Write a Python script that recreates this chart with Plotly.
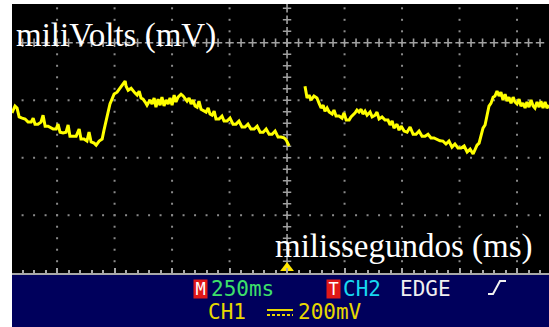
import numpy as np
import plotly.graph_objects as go

# ---- data (time in ms relative to trigger, voltage in mV) ----
t1 = [-1196, -1183, -1174, -1165, -1152, -1139, -1126, -1113, -1104, -1096, -1083, -1070, -1061,
      -1052, -1039, -1030, -1017, -1004, -996, -987, -974, -961, -952, -944, -930, -917, -904,
      -896, -883, -870, -861, -852, -839, -830, -817, -804, -796, -787, -778, -770, -761, -752,
      -739, -730, -722, -713, -704, -700, -691, -678, -670, -661, -652, -643, -635, -626, -617,
      -609, -596, -587, -578, -570, -561, -552, -544, -535, -526, -517, -509, -500, -491, -483,
      -474, -461, -452, -443, -435, -426, -417, -409, -400, -391, -383, -374, -365, -352, -343,
      -335, -326, -317, -309, -296, -283, -274, -261, -248, -235, -222, -209, -196, -183, -170,
      -157, -143, -130, -117, -104, -91, -78, -65, -52, -39, -26, -13, -4, 4, 9]
v1 = [-244, -220, -227, -258, -262, -265, -276, -276, -262, -283, -283, -276, -252,
      -290, -290, -293, -300, -300, -283, -311, -314, -311, -286, -325, -325, -325, -300,
      -335, -335, -342, -311, -345, -349, -356, -342, -335, -304, -269, -241, -213, -196, -178,
      -172, -161, -151, -144, -133, -151, -165, -158, -168, -175, -182, -168, -192, -196, -206,
      -217, -199, -213, -192, -224, -196, -217, -189, -220, -199, -213, -192, -217, -182, -206,
      -189, -179, -185, -196, -203, -192, -213, -199, -220, -224, -203, -231, -234, -241, -227,
      -248, -252, -238, -265, -265, -255, -272, -272, -262, -283, -283, -272, -293, -293, -283,
      -300, -300, -290, -311, -311, -300, -318, -318, -307, -328, -328, -331, -338, -349, -359]

t2 = [78, 83, 87, 96, 104, 117, 130, 139, 148, 157, 165, 174, 183, 196, 204, 213, 226, 239,
      248, 257, 270, 278, 287, 296, 304, 313, 322, 330, 339, 348, 361, 370, 383, 391, 400, 413,
      426, 439, 448, 457, 465, 478, 487, 496, 509, 522, 535, 548, 561, 574, 587, 600, 613, 626,
      639, 652, 665, 678, 691, 704, 717, 730, 743, 757, 770, 783, 796, 809, 817, 826, 835, 843,
      852, 861, 870, 878, 887, 896, 904, 913, 922, 930, 939, 948, 957, 965, 974, 983, 991, 1000,
      1009, 1017, 1026, 1035, 1043, 1052, 1061, 1070, 1078, 1087, 1096, 1104, 1113, 1122, 1130, 1139]
v2 = [-151, -172, -192, -182, -199, -185, -192, -210, -227, -217, -238, -227, -241, -248, -234,
      -255, -255, -262, -244, -269, -269, -258, -252, -244, -234, -241, -231, -248, -238, -252,
      -241, -258, -252, -241, -265, -258, -269, -269, -286, -272, -297, -283, -304, -290, -307,
      -311, -293, -318, -318, -307, -325, -325, -318, -331, -331, -335, -341, -342, -352, -342,
      -363, -352, -366, -366, -359, -380, -370, -387, -373, -356, -349, -328, -297, -286, -245,
      -220, -210, -189, -185, -168, -185, -172, -199, -179, -203, -189, -210, -189, -206, -213,
      -196, -220, -210, -227, -206, -224, -199, -220, -227, -206, -224, -203, -227, -206, -227, -217]

y_label = "miliVolts (mV)"
x_label = "milissegundos (ms)"
timebase = "250ms"
trig_src = "CH2"
trig_type = "EDGE"
channel = "CH1"
volts_div = "200mV"

# ---- geometry helpers (pixel -> paper) ----
W, H = 549, 327
ML, MR, MT, MB = 12, 0, 4, 54
PW, PH = W - ML - MR, H - MT - MB


def px(x):
    return (x - ML) / PW


def py(y):
    return (H - MB - y) / PH


XR = [-1196, 1139]
YR = [-801, 135]

fig = go.Figure()

# graticule dots
vlines = [-1000, -750, -500, -250, 250, 500, 750, 1000]
hlines = [-200, -400, -600]
vdots = np.arange(-760, 121, 40)
tdots = np.arange(-1150, 1140, 50)
gx = [x for x in vlines for _ in vdots] + [t for _ in hlines for t in tdots]
gy = [v for _ in vlines for v in vdots] + [h for h in hlines for _ in tdots]
fig.add_trace(go.Scatter(x=gx, y=gy, mode="markers", hoverinfo="skip",
                         marker=dict(symbol="square", size=2, color="#8a8a8a", line=dict(width=0))))
cx = [0] * len(vdots) + list(tdots)
cy = list(vdots) + [0] * len(tdots)
fig.add_trace(go.Scatter(x=cx, y=cy, mode="markers", hoverinfo="skip",
                         marker=dict(symbol="cross-thin", size=6, color="#a0a0a0",
                                     line=dict(width=1.6, color="#a0a0a0"))))

# waveform
for tt, vv in ((t1, v1), (t2, v2)):
    fig.add_trace(go.Scatter(x=tt, y=vv, mode="lines", hoverinfo="skip",
                             line=dict(color="#ffff00", width=3)))

# trigger position marker
fig.add_trace(go.Scatter(x=[0], y=[-784], mode="markers", cliponaxis=False, hoverinfo="skip",
                         marker=dict(symbol="triangle-up", size=12, color="#ffe600", line=dict(width=0))))

shapes = [
    dict(type="rect", xref="paper", yref="paper", x0=0, x1=1, y0=py(H + 2), y1=py(275),
         fillcolor="#00005c", line=dict(width=0), layer="below"),
    # DC coupling symbol
    dict(type="line", xref="paper", yref="paper", x0=px(267), x1=px(293), y0=py(310), y1=py(310),
         line=dict(color="#e8d800", width=2)),
    dict(type="line", xref="paper", yref="paper", x0=px(267), x1=px(293), y0=py(315), y1=py(315),
         line=dict(color="#e8d800", width=2, dash="3px,2px")),
    # rising edge symbol
    dict(type="path", xref="paper", yref="paper",
         path=f"M {px(488)} {py(294)} L {px(493)} {py(294)} L {px(500)} {py(281)} L {px(506)} {py(281)}",
         line=dict(color="#f0f0f0", width=2)),
]

mono = "DejaVu Sans Mono"
ann = [
    dict(text=y_label, x=px(15), y=py(35), xanchor="left", yanchor="middle",
         font=dict(family="Liberation Serif", size=33, color="#ffffff")),
    dict(text=x_label, x=px(274), y=py(246), xanchor="left", yanchor="middle",
         font=dict(family="Liberation Serif", size=33, color="#ffffff")),
    dict(text="M", x=px(200.5), y=py(289), xanchor="center", yanchor="middle", width=13, height=18,
         bgcolor="#e01818", font=dict(family=mono, size=17, color="#ffffff")),
    dict(text=timebase, x=px(210), y=py(289), xanchor="left", yanchor="middle",
         font=dict(family=mono, size=21, color="#3ee06a")),
    dict(text="T", x=px(333.5), y=py(289), xanchor="center", yanchor="middle", width=13, height=18,
         bgcolor="#e01818", font=dict(family=mono, size=17, color="#ffffff")),
    dict(text=trig_src, x=px(342), y=py(289), xanchor="left", yanchor="middle",
         font=dict(family=mono, size=21, color="#18d8f0")),
    dict(text=trig_type, x=px(399), y=py(289), xanchor="left", yanchor="middle",
         font=dict(family=mono, size=21, color="#f0f0f0")),
    dict(text=channel, x=px(207), y=py(312), xanchor="left", yanchor="middle",
         font=dict(family=mono, size=21, color="#e8d800")),
    dict(text=volts_div, x=px(297), y=py(312), xanchor="left", yanchor="middle",
         font=dict(family=mono, size=21, color="#e8d800")),
]
for a in ann:
    a.update(xref="paper", yref="paper", showarrow=False, borderpad=0)

fig.update_layout(
    width=W, height=H, margin=dict(l=ML, r=MR, t=MT, b=MB),
    paper_bgcolor="#ffffff", plot_bgcolor="#000000",
    showlegend=False, shapes=shapes, annotations=ann,
    xaxis=dict(range=XR, showgrid=False, zeroline=False, showline=True, linecolor="#a8a8a8",
               linewidth=1.5, ticks="inside", ticklen=5, tickwidth=1.5, tickcolor="#a8a8a8",
               tick0=0, dtick=250, showticklabels=False, fixedrange=True,
               minor=dict(ticks="inside", ticklen=3, tickwidth=1.5, tickcolor="#a8a8a8", dtick=50, tick0=0)),
    yaxis=dict(range=YR, showgrid=False, zeroline=False, showline=False, ticks="",
               showticklabels=False, fixedrange=True),
)

fig.write_html("out.html", config=dict(displayModeBar=False),
               post_script="document.body.style.margin='0px';document.body.style.overflow='hidden';")
